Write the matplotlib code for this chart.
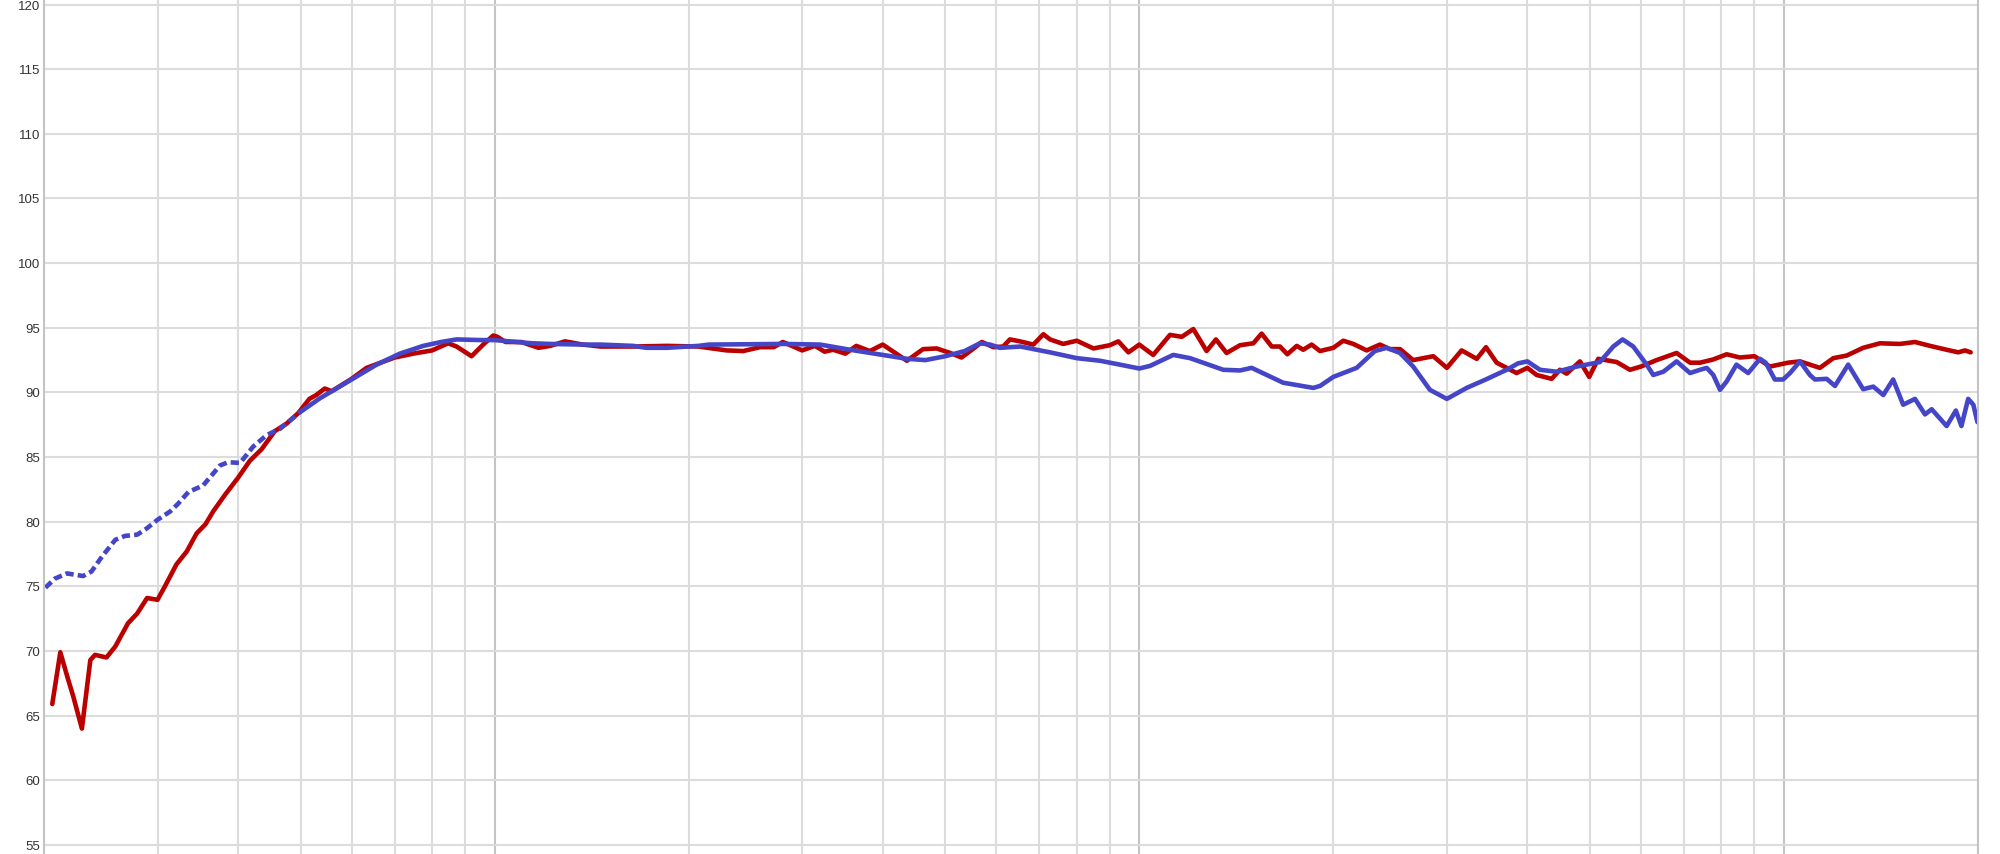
import numpy as np
import matplotlib
matplotlib.use("Agg")
import matplotlib.pyplot as plt
from matplotlib.ticker import FixedLocator, NullFormatter

# Кривая 1 (красная)
red_freq = [20.6, 21.2, 21.8, 22.2, 22.9, 23.6, 24.0, 25.0, 25.8, 27.0, 27.9, 28.9, 30.0, 30.8,
            32.1, 33.3, 34.5, 35.6, 36.6, 38.2, 40.0, 41.7, 43.5, 45.6, 47.6, 49.6, 51.6, 52.9,
            54.5, 55.9, 60.0, 63.3, 70.0, 74.8, 80.0, 84.7, 87.3, 92.1, 96.0, 99.5, 101, 104,
            110, 117, 122, 128.6, 137, 146, 164, 185, 207, 229, 243, 258, 271, 280, 300, 314,
            325, 335, 350, 364, 382, 400, 436, 462, 485, 509, 530, 550, 570, 594, 615, 630,
            653, 685, 710, 727, 762, 800, 849, 900, 928, 962, 1000, 1051, 1116, 1164, 1213,
            1272, 1315, 1366, 1433, 1503, 1548, 1605, 1653, 1697, 1755, 1796, 1851, 1907, 2000,
            2072, 2148, 2253, 2362, 2448, 2538, 2660, 2858, 3000, 3162, 3338, 3450, 3584, 3848,
            4000, 4134, 4362, 4492, 4602, 4826, 4988, 5152, 5502, 5770, 6000, 6346, 6816, 7150,
            7410, 7770, 8150, 8545, 9000, 9510, 10150, 10590, 11370, 11930, 12510, 13270, 14090,
            15130, 15970, 16850, 17880, 18640, 19090, 19480]
red_db = [65.9, 69.9, 67.8, 66.5, 64.0, 69.3, 69.7, 69.5, 70.35, 72.15, 72.9, 74.1, 73.96, 75.0,
          76.7, 77.7, 79.1, 79.8, 80.8, 82.1, 83.4, 84.7, 85.6, 87.0, 87.6, 88.4, 89.5, 89.8,
          90.3, 90.1, 91.05, 91.9, 92.7, 93.0, 93.25, 93.8, 93.55, 92.8, 93.7, 94.4, 94.3, 93.9,
          93.9, 93.45, 93.6, 93.95, 93.7, 93.55, 93.55, 93.6, 93.55, 93.25, 93.2, 93.5, 93.5, 93.9, 93.25, 93.6,
          93.15, 93.3, 93.0, 93.6, 93.2, 93.7, 92.45, 93.35, 93.4, 93.05, 92.7, 93.3, 93.9, 93.5, 93.55, 94.1,
          93.95, 93.7, 94.5, 94.1, 93.75, 94.0, 93.4, 93.65, 93.95, 93.1, 93.7, 92.9, 94.45, 94.3, 94.9,
          93.2, 94.1, 93.05, 93.65, 93.8, 94.55, 93.55, 93.55, 92.95, 93.6, 93.3, 93.7, 93.2, 93.45,
          94.0, 93.75, 93.25, 93.7, 93.35, 93.35, 92.5, 92.8, 91.9, 93.25, 92.6, 93.5, 92.3, 91.5,
          91.9, 91.35, 91.05, 91.75, 91.45, 92.4, 91.2, 92.6, 92.35, 91.75, 92.0, 92.5, 93.05, 92.3,
          92.3, 92.55, 92.95, 92.7, 92.8, 92.0, 92.3, 92.4, 91.9, 92.65, 92.85, 93.45, 93.8,
          93.75, 93.9, 93.6, 93.3, 93.1, 93.25, 93.1]

# Кривая 2 (синяя), пунктир до 50 Гц
blue_dash_freq = [20.1, 20.8, 21.7, 23.0, 23.7, 24.6, 25.8, 26.7, 27.9, 28.9, 30.0, 31.4, 32.3,
                  33.5, 35.3, 37.5, 38.6, 40.3, 42.2, 44.3, 46.5, 50]
blue_dash_db = [74.9, 75.6, 76.0, 75.8, 76.15, 77.3, 78.6, 78.9, 79.0, 79.5, 80.15, 80.8, 81.4,
                82.3, 82.8, 84.35, 84.6, 84.55, 85.8, 86.7, 87.2, 88.5]

blue_freq = [50, 53.6, 60, 65.6, 71.3, 77.5, 82.6, 87.3, 94.9, 100, 108, 114.4, 122, 137, 146,
             164, 172, 185, 207, 215, 281, 320, 356, 400, 436, 466, 500, 536, 566, 587, 608, 654,
             727, 800, 869, 933, 1000, 1039, 1129, 1199, 1350, 1433, 1494, 1672, 1862, 1907, 2000,
             2174, 2320, 2420, 2538, 2660, 2824, 3000, 3220, 3465, 3714, 3870, 4000, 4184, 4440,
             4770, 5182, 5436, 5620, 5838, 6124, 6270, 6500, 6816, 7150, 7410, 7590, 7770, 7960,
             8150, 8440, 8800, 9180, 9370, 9680, 9970, 10220, 10590, 10970, 11170, 11650, 12000,
             12580, 13270, 13760, 14260, 14770, 15310, 15970, 16550, 16950, 17880, 18480, 18850,
             19310, 19670, 19960]
blue_db = [88.5, 89.55, 91.0, 92.15, 93.0, 93.6, 93.9, 94.1, 94.05, 94.05, 93.9, 93.8, 93.75, 93.7, 93.7,
           93.6, 93.45, 93.45, 93.6, 93.7, 93.75, 93.7, 93.3, 92.9, 92.6, 92.5, 92.8, 93.2, 93.8, 93.7, 93.45, 93.55,
           93.1, 92.65, 92.45, 92.15, 91.85, 92.05, 92.9, 92.65, 91.75, 91.7, 91.9, 90.75, 90.35, 90.5, 91.2,
           91.9, 93.2, 93.45, 93.05, 92.0, 90.2, 89.5, 90.35, 91.05, 91.75, 92.25, 92.4, 91.75, 91.6,
           92.0, 92.35, 93.55, 94.1, 93.55, 92.15, 91.35, 91.6, 92.4, 91.5, 91.75, 91.9, 91.35, 90.2,
           90.85, 92.15, 91.5, 92.6, 92.3, 91.0, 91.0, 91.5, 92.4, 91.35, 91.0, 91.05, 90.5,
           92.15, 90.25, 90.45, 89.8, 91.0, 89.05, 89.5, 88.3, 88.7, 87.4, 88.6, 87.4,
           89.5, 89.05, 87.7]

# Сетка
y_ticks = list(range(55, 125, 5))
decade_lines = [100, 1000, 10000]
minor_lines = [20, 30, 40, 50, 60, 70, 80, 90, 200, 300, 400, 500, 600, 700, 800, 900,
               2000, 3000, 4000, 5000, 6000, 7000, 8000, 9000, 20000]

RED = "#bb0000"
BLUE = "#4545c8"

fig = plt.figure(figsize=(20, 8.545), dpi=100)
ax = fig.add_axes([0.022, 0.0, 0.967, 1.0])

ax.set_xscale("log")
ax.set_xlim(20, 20000)
ax.set_ylim(54.3, 120.39)

ax.xaxis.set_major_locator(FixedLocator(decade_lines))
ax.xaxis.set_minor_locator(FixedLocator(minor_lines))
ax.xaxis.set_major_formatter(NullFormatter())
ax.xaxis.set_minor_formatter(NullFormatter())
ax.set_yticks(y_ticks)

ax.grid(True, which="major", axis="x", color="#c4c4c4", linewidth=1.5)
ax.grid(True, which="minor", axis="x", color="#dcdcdc", linewidth=1.5)
ax.grid(True, which="major", axis="y", color="#dcdcdc", linewidth=1.5)
ax.set_axisbelow(True)

ax.tick_params(axis="both", which="both", length=0)
ax.tick_params(axis="y", labelsize=9.5, labelcolor="#333333", pad=3)
for lbl in ax.get_yticklabels():
    lbl.set_family("Liberation Sans")

for s in ["top", "bottom"]:
    ax.spines[s].set_visible(False)
for s in ["left", "right"]:
    ax.spines[s].set_color("#c4c4c4")
    ax.spines[s].set_linewidth(1.5)

ax.plot(red_freq, red_db, color=RED, lw=3.3, solid_joinstyle="round", solid_capstyle="round")
ax.plot(blue_dash_freq, blue_dash_db, color=BLUE, lw=3.3, linestyle=(0, (1.8, 0.9)))
ax.plot(blue_freq, blue_db, color=BLUE, lw=3.3, solid_joinstyle="round", solid_capstyle="round")

fig.savefig("out.png", dpi=100)
